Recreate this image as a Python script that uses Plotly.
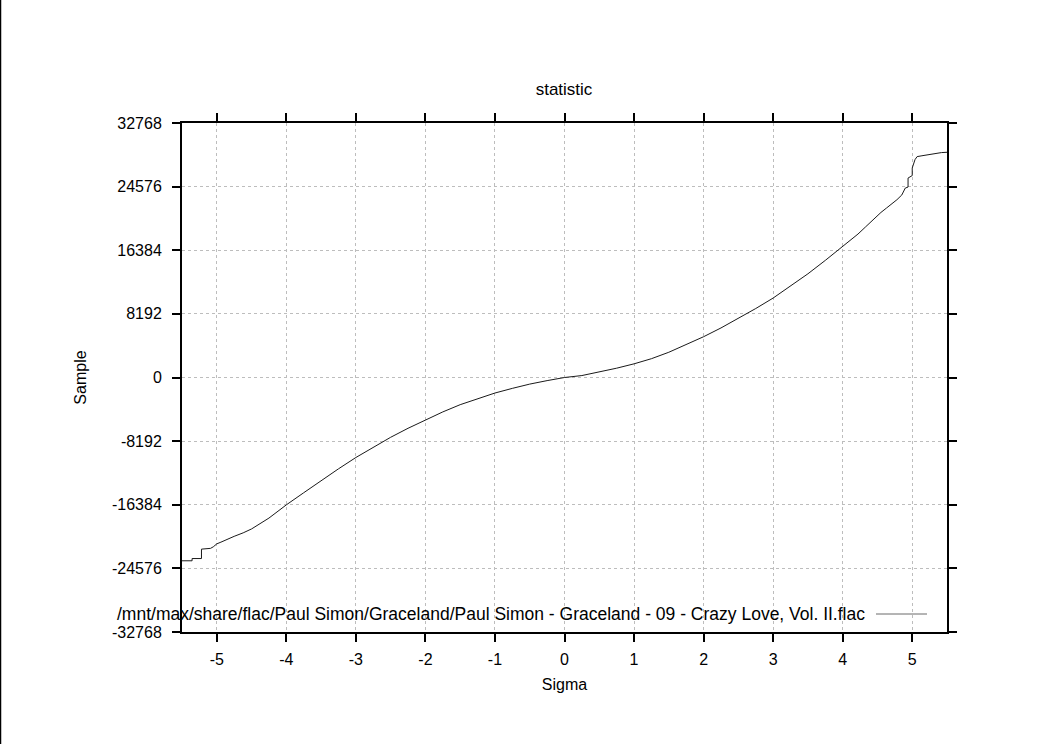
import plotly.graph_objects as go

# ---- data ----
sigma = [-5.50, -5.355, -5.355, -5.22, -5.22, -5.09, -5.05, -5.0, -4.94, -4.88, -4.82, -4.75,
         -4.62, -4.5, -4.25, -4.0, -3.75, -3.5, -3.25, -3.0, -2.75, -2.5,
         -2.25, -2.0, -1.75, -1.5, -1.25, -1.0, -0.75, -0.5, -0.25, 0.0,
         0.25, 0.5, 0.75, 1.0, 1.25, 1.5, 1.75, 2.0, 2.25, 2.5, 2.75, 3.0, 3.25, 3.5,
         3.75, 4.0, 4.1, 4.22, 4.33, 4.45, 4.55, 4.63, 4.7, 4.78, 4.85, 4.90, 4.94,
         4.94, 5.0, 5.0, 5.04, 5.07, 5.14, 5.21, 5.28, 5.35, 5.42, 5.50]
sample = [-23600, -23600, -23310, -23310, -22100, -22000, -21800, -21420, -21200, -20940, -20700, -20450,
          -20000, -19500, -18100, -16400, -14840, -13270, -11760, -10300, -8960, -7700,
          -6540, -5450, -4430, -3500, -2700, -2000, -1400, -850, -400, 0,
          250, 680, 1200, 1760, 2420, 3250, 4230, 5250, 6380, 7600, 8880, 10230, 11750, 13350,
          15080, 16870, 17600, 18470, 19400, 20440, 21250, 21820, 22300, 22890, 23500, 24390, 24520,
          25680, 26000, 26970, 28050, 28440, 28550, 28650, 28780, 28910, 28960, 29000]

x_ticks = [-5, -4, -3, -2, -1, 0, 1, 2, 3, 4, 5]
x_tick_labels = ["-5", "-4", "-3", "-2", "-1", "0", "1", "2", "3", "4", "5"]
y_ticks = [-32768, -24576, -16384, -8192, 0, 8192, 16384, 24576, 32768]
y_tick_labels = ["-32768", "-24576", "-16384", "-8192", "0", "8192", "16384", "24576", "32768"]

series_name = "/mnt/max/share/flac/Paul Simon/Graceland/Paul Simon - Graceland - 09 - Crazy Love, Vol. II.flac"

FONT = "Liberation Sans, Arial, sans-serif"
FS = 16

W, H = 1052, 744
L, R, T, B = 182, 105, 123, 112
PW, PH = W - L - R, H - T - B

fig = go.Figure()
fig.add_trace(go.Scatter(x=sigma, y=sample, mode="lines", name=series_name,
                         line=dict(color="#1a1a1a", width=1), showlegend=False))

axis_common = dict(
    showline=True, linecolor="black", linewidth=2, mirror="ticks",
    ticks="outside", ticklen=8, tickwidth=2, tickcolor="black",
    showgrid=True, gridcolor="#bdbdbd", gridwidth=1, griddash="dot",
    zeroline=False, tickfont=dict(family=FONT, size=FS, color="black"),
)

fig.update_xaxes(range=[-5.5, 5.5], tickvals=x_ticks, ticktext=x_tick_labels, **axis_common,
                 ticklabelstandoff=4,
                 title=dict(text="Sigma", font=dict(family=FONT, size=FS, color="black"), standoff=12))
fig.update_yaxes(range=[-32768, 32768], tickvals=y_ticks, ticktext=y_tick_labels, **axis_common,
                 ticklabelstandoff=7,
                 title=dict(text="Sample", font=dict(family=FONT, size=FS, color="black"), standoff=21))

# legend drawn gnuplot-style: text then sample line, inside bottom right
leg_y = 1 - (614 - T) / PH
fig.add_annotation(text=series_name, xref="paper", yref="paper",
                   x=(867 - L) / PW, y=leg_y, xanchor="right", yanchor="middle",
                   showarrow=False, font=dict(family=FONT, size=17.5, color="black"))
fig.add_shape(type="line", xref="paper", yref="paper",
              x0=(876 - L) / PW, x1=(927 - L) / PW, y0=leg_y, y1=leg_y,
              line=dict(color="#6a6a6a", width=1))

# left page border line
fig.add_shape(type="line", xref="paper", yref="paper",
              x0=(0.5 - L) / PW, x1=(0.5 - L) / PW, y0=1 + T / PH, y1=-B / PH,
              line=dict(color="black", width=1.5))

fig.update_layout(
    width=W, height=H,
    margin=dict(l=L, r=R, t=T, b=B),
    paper_bgcolor="white", plot_bgcolor="white",
    title=dict(text="statistic", x=564 / W, xanchor="center",
               y=1 - 89 / H, yanchor="middle", font=dict(family=FONT, size=17, color="black")),
    font=dict(family=FONT, size=FS, color="black"),
    showlegend=False,
)

fig.write_html("out.html", config={"displayModeBar": False},
               post_script="document.body.style.margin='0';document.body.style.overflow='hidden';")
